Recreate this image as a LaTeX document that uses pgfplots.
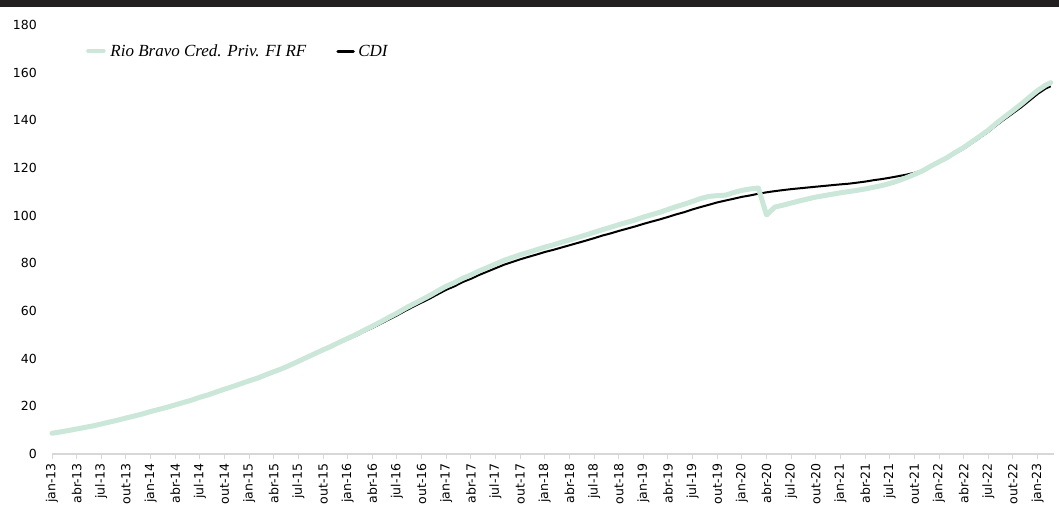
\documentclass[border=0pt]{standalone}
\usepackage{fontspec}
\setmainfont{Liberation Sans}
\newfontfamily\tickfont{DejaVu Sans}
\newfontfamily\legfont{Liberation Serif}
\usepackage{pgfplots}
\usepackage{pgfplotstable}
\pgfplotsset{compat=1.18}

\definecolor{rbgreen}{RGB}{202,231,217}
\definecolor{band}{RGB}{35,31,32}
\definecolor{axgray}{RGB}{215,215,215}

% CDI acumulado (%), mes 0 = jan-13
\pgfplotstableread{
m v
0 8.70
1 9.22
2 9.81
3 10.47
4 11.11
5 11.77
6 12.56
7 13.34
8 14.13
9 15.04
10 15.86
11 16.76
12 17.74
13 18.66
14 19.56
15 20.54
16 21.58
17 22.58
18 23.73
19 24.79
20 25.91
21 27.10
22 28.17
23 29.40
24 30.60
25 31.67
26 33.04
27 34.30
28 35.62
29 37.07
30 38.69
31 40.23
32 41.78
33 43.36
34 44.88
35 46.56
36 48.10
37 49.58
38 51.32
39 52.91
40 54.61
41 56.40
42 58.14
43 60.05
44 61.83
45 63.53
46 65.23
47 67.08
48 68.90
49 70.35
50 72.14
51 73.50
52 75.11
53 76.53
54 77.94
55 79.36
56 80.51
57 81.67
58 82.70
59 83.69
60 84.75
61 85.62
62 86.60
63 87.57
64 88.55
65 89.53
66 90.55
67 91.64
68 92.54
69 93.58
70 94.53
71 95.48
72 96.54
73 97.50
74 98.43
75 99.46
76 100.54
77 101.48
78 102.63
79 103.64
80 104.58
81 105.56
82 106.34
83 107.10
84 107.89
85 108.49
86 109.20
87 109.79
88 110.29
89 110.73
90 111.13
91 111.47
92 111.81
93 112.15
94 112.47
95 112.81
96 113.13
97 113.41
98 113.84
99 114.29
100 114.87
101 115.34
102 115.91
103 116.54
104 117.20
105 117.97
106 119.06
107 120.76
108 122.38
109 124.06
110 126.16
111 128.05
112 130.41
113 132.78
114 135.19
115 137.96
116 140.52
117 142.99
118 145.48
119 148.25
120 151.05
121 153.37
121.6 154.30
}\cditable

% Rio Bravo Cred. Priv. FI RF acumulado (%)
\pgfplotstableread{
m v
0 8.70
1 9.25
2 9.85
3 10.50
4 11.15
5 11.80
6 12.60
7 13.40
8 14.20
9 15.10
10 15.90
11 16.80
12 17.80
13 18.70
14 19.60
15 20.60
16 21.60
17 22.60
18 23.80
19 24.80
20 26.00
21 27.20
22 28.30
23 29.50
24 30.70
25 31.80
26 33.20
27 34.50
28 35.80
29 37.30
30 38.90
31 40.50
32 42.10
33 43.70
34 45.20
35 46.90
36 48.50
37 50.10
38 51.90
39 53.60
40 55.40
41 57.30
42 59.10
43 61.10
44 62.90
45 64.70
46 66.50
47 68.50
48 70.40
49 71.90
50 73.70
51 75.10
52 76.80
53 78.20
54 79.70
55 81.20
56 82.40
57 83.60
58 84.60
59 85.70
60 86.80
61 87.70
62 88.80
63 89.80
64 90.85
65 91.90
66 93.00
67 94.10
68 95.10
69 96.20
70 97.20
71 98.20
72 99.40
73 100.40
74 101.40
75 102.60
76 103.80
77 104.80
78 106.00
79 107.20
80 108.10
81 108.40
82 108.60
83 109.70
84 110.60
85 111.20
86 111.60
87 100.30
88 103.60
89 104.40
90 105.30
91 106.20
92 107.00
93 107.80
94 108.40
95 109.00
96 109.60
97 110.10
98 110.60
99 111.20
100 111.90
101 112.60
102 113.50
103 114.60
104 115.90
105 117.30
106 118.80
107 120.80
108 122.60
109 124.40
110 126.60
111 128.60
112 131.00
113 133.40
114 135.90
115 138.80
116 141.50
117 144.10
118 146.80
119 149.70
120 152.50
121 154.80
121.6 155.80
}\rbtable

\begin{document}
\begin{tikzpicture}
\fill[band] (0bp,499bp) rectangle (1059bp,506bp);
\begin{axis}[
  at={(52bp,52bp)}, anchor=south west,
  scale only axis, width=1002bp, height=429bp,
  xmin=0, xmax=122, ymin=0, ymax=180,
  axis lines*=left,
  x axis line style={axgray, line width=1.5bp},
  y axis line style={draw=none},
  tick align=outside,
  major tick length=5bp,
  xtick style={axgray, line width=1bp},
  ytick style={draw=none},
  xtick={0,3,...,120},
  xticklabels={jan-13,abr-13,jul-13,out-13,jan-14,abr-14,jul-14,out-14,jan-15,abr-15,jul-15,out-15,jan-16,abr-16,jul-16,out-16,jan-17,abr-17,jul-17,out-17,jan-18,abr-18,jul-18,out-18,jan-19,abr-19,jul-19,out-19,jan-20,abr-20,jul-20,out-20,jan-21,abr-21,jul-21,out-21,jan-22,abr-22,jul-22,out-22,jan-23},
  ytick={0,20,...,180},
  /pgf/number format/assume math mode=true,
  xticklabel style={font=\tickfont\fontsize{12.5bp}{14bp}\selectfont, rotate=90, anchor=east, inner sep=0pt, xshift=-4bp},
  yticklabel style={font=\tickfont\fontsize{12.5bp}{14bp}\selectfont, anchor=east, inner sep=0pt, xshift=-10bp},
  legend columns=2,
  reverse legend,
  legend cell align=left,
  legend style={at={(rel axis cs:0.0339,0.939)}, anchor=west, draw=none, fill=none, inner sep=0pt,
    font=\legfont\itshape\fontsize{17bp}{20bp}\selectfont,
    nodes={inner sep=0pt},
    /tikz/every even column/.append style={column sep=30bp}},
  clip=false,
]
\addplot[black, line width=2bp, line join=round,
  legend image code/.code={\draw[black, line width=3bp, line cap=round] (1.5bp,0bp) -- (17bp,0bp); \path (21bp,0bp);}]
  table[x=m, y=v] {\cditable};
\addlegendentry{CDI}
\addplot[rbgreen, line width=5bp, line join=round, line cap=round,
  legend image code/.code={\draw[rbgreen, line width=3.5bp] (0bp,0bp) -- (16bp,0bp); \path (20bp,0bp);}]
  table[x=m, y=v] {\rbtable};
\addlegendentry{Rio Bravo Cred. Priv. FI RF}
\end{axis}
\pgfresetboundingbox
\useasboundingbox (0bp,0bp) rectangle (1059bp,506bp);
\end{tikzpicture}
\end{document}
